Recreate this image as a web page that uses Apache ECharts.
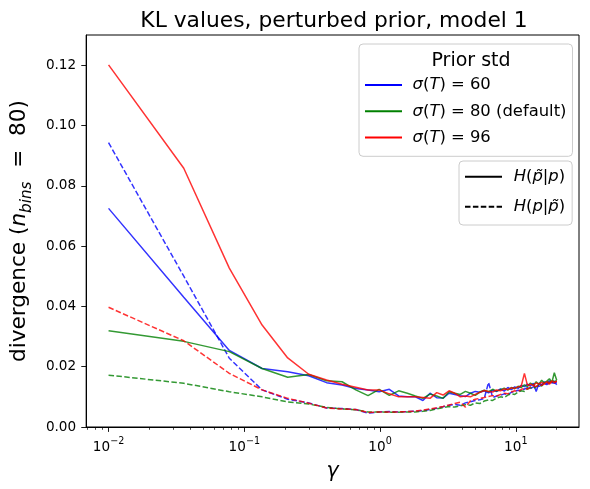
<!DOCTYPE html>
<html>
<head>
<meta charset="utf-8">
<script src="https://cdn.jsdelivr.net/npm/echarts@6/dist/echarts.min.js"></script>
<style>html,body{margin:0;padding:0;background:#fff;}#c{width:590px;height:489px;}</style>
</head>
<body>
<div id="c"></div>
<script>
// ---- data ----
const gamma = [0.01, 0.035807, 0.077537, 0.13519, 0.20877, 0.29826, 0.40369, 0.52503, 0.66230, 0.81549,
  0.98460, 1.1696, 1.3706, 1.5875, 1.8203, 2.0690, 2.3337, 2.6142, 2.9107, 3.2231,
  3.5515, 3.8958, 4.2559, 4.6321, 5.0241, 5.4320, 5.8559, 6.2957, 6.7515, 7.2231,
  7.7107, 8.2142, 8.7336, 9.2689, 9.8202, 10.387, 10.970, 11.570, 12.184, 12.815,
  13.462, 14.125, 14.804, 15.498, 16.209, 16.935, 17.677, 18.436, 19.210, 20.0];

const blueSolid = [0.0725, 0.0430, 0.0254, 0.0194, 0.0183, 0.0170, 0.0147, 0.0139, 0.0128, 0.0123,
  0.0117, 0.0125, 0.0103, 0.0100, 0.0100, 0.0088, 0.0112, 0.0097, 0.0096, 0.0112,
  0.0108, 0.0104, 0.0101, 0.0112, 0.0118, 0.0115, 0.0120, 0.0113, 0.0122, 0.0118,
  0.0126, 0.0119, 0.0131, 0.0124, 0.0133, 0.0128, 0.0138, 0.0134, 0.0142, 0.0136,
  0.0145, 0.0118, 0.0146, 0.0139, 0.0150, 0.0144, 0.0153, 0.0146, 0.0152, 0.0140];
const blueDashed = [0.0943, 0.0500, 0.0228, 0.0123, 0.0092, 0.0080, 0.0063, 0.0061, 0.0058, 0.0046,
  0.0050, 0.0051, 0.0050, 0.0051, 0.0052, 0.0054, 0.0058, 0.0062, 0.0067, 0.0072,
  0.0075, 0.0072, 0.0080, 0.0084, 0.0088, 0.0090, 0.0095, 0.0148, 0.0098, 0.0103,
  0.0105, 0.0110, 0.0108, 0.0115, 0.0118, 0.0122, 0.0120, 0.0126, 0.0130, 0.0127,
  0.0133, 0.0137, 0.0135, 0.0140, 0.0143, 0.0141, 0.0146, 0.0148, 0.0145, 0.0150];
const greenSolid = [0.0319, 0.0284, 0.0250, 0.0194, 0.0165, 0.0174, 0.0153, 0.0150, 0.0123, 0.0104,
  0.0125, 0.0105, 0.0120, 0.0112, 0.0103, 0.0095, 0.0109, 0.0103, 0.0095, 0.0117,
  0.0112, 0.0108, 0.0118, 0.0112, 0.0105, 0.0116, 0.0122, 0.0117, 0.0125, 0.0119,
  0.0124, 0.0129, 0.0122, 0.0131, 0.0127, 0.0135, 0.0131, 0.0140, 0.0134, 0.0146,
  0.0138, 0.0150, 0.0141, 0.0155, 0.0146, 0.0152, 0.0160, 0.0148, 0.0180, 0.0155];
const greenDashed = [0.0172, 0.0145, 0.0117, 0.0100, 0.0083, 0.0076, 0.0065, 0.0060, 0.0057, 0.0050,
  0.0050, 0.0049, 0.0049, 0.0050, 0.0050, 0.0052, 0.0055, 0.0060, 0.0064, 0.0068,
  0.0066, 0.0070, 0.0074, 0.0072, 0.0080, 0.0078, 0.0086, 0.0090, 0.0088, 0.0096,
  0.0100, 0.0098, 0.0106, 0.0110, 0.0108, 0.0116, 0.0120, 0.0118, 0.0126, 0.0130,
  0.0128, 0.0134, 0.0140, 0.0136, 0.0145, 0.0150, 0.0146, 0.0156, 0.0150, 0.0155];
const redSolid = [0.1201, 0.0858, 0.0527, 0.0338, 0.0229, 0.0175, 0.0156, 0.0142, 0.0132, 0.0123,
  0.0123, 0.0110, 0.0100, 0.0100, 0.0100, 0.0098, 0.0095, 0.0114, 0.0106, 0.0120,
  0.0112, 0.0100, 0.0103, 0.0100, 0.0108, 0.0115, 0.0121, 0.0118, 0.0116, 0.0123,
  0.0120, 0.0126, 0.0124, 0.0130, 0.0128, 0.0133, 0.0136, 0.0178, 0.0138, 0.0142,
  0.0138, 0.0146, 0.0142, 0.0148, 0.0144, 0.0150, 0.0146, 0.0153, 0.0147, 0.0152];
const redDashed = [0.0397, 0.0286, 0.0178, 0.0123, 0.0095, 0.0079, 0.0063, 0.0060, 0.0058, 0.0048,
  0.0050, 0.0050, 0.0050, 0.0051, 0.0053, 0.0056, 0.0060, 0.0064, 0.0068, 0.0073,
  0.0078, 0.0082, 0.0066, 0.0087, 0.0092, 0.0095, 0.0098, 0.0101, 0.0104, 0.0103,
  0.0108, 0.0112, 0.0110, 0.0116, 0.0120, 0.0118, 0.0125, 0.0128, 0.0126, 0.0132,
  0.0136, 0.0134, 0.0140, 0.0138, 0.0143, 0.0146, 0.0142, 0.0150, 0.0147, 0.0152];

const xTickValues = [0.01, 0.1, 1, 10];
const xTickExponents = ['\u22122', '\u22121', '0', '1'];
const xMinorTicks = [0.007, 0.008, 0.009, 0.02, 0.03, 0.04, 0.05, 0.06, 0.07, 0.08, 0.09,
  0.2, 0.3, 0.4, 0.5, 0.6, 0.7, 0.8, 0.9, 2, 3, 4, 5, 6, 7, 8, 9, 20];
const yTickValues = [0, 0.02, 0.04, 0.06, 0.08, 0.10, 0.12];

const sigmaNames = ['\u03c3(T) = 60', '\u03c3(T) = 80 (default)', '\u03c3(T) = 96'];
const sigmaValues = ['60', '80', '96'];
const divNames = ['H(p\u0303|p)', 'H(p|p\u0303)'];
// ---- end data ----

const FONT = 'DejaVu Sans';
const BLUE = '#0000ff', GREEN = '#008000', RED = '#ff0000';
const TFS = 13.6;

function pairs(vals) { return gamma.map((g, i) => [g, vals[i]]); }

function dataSeries(name, vals, color, dashed) {
  return {
    type: 'line', name: name, data: pairs(vals), symbol: 'none', silent: true,
    lineStyle: { color: color, width: 1.5, opacity: 0.8, type: dashed ? [5.5, 2.4] : 'solid' },
    itemStyle: { color: color }
  };
}
function legendSeries(name, color, dashed) {
  return {
    type: 'line', name: name, data: [], symbol: 'none',
    lineStyle: { color: color, width: 2, type: dashed ? [5.5, 2.4] : 'solid' },
    itemStyle: { color: color }
  };
}

const richMap = {};
richMap[sigmaNames[0]] = '{sp| }{it|\u03c3}{rm|(}{it|T}{rm|) = ' + sigmaValues[0] + '}';
richMap[sigmaNames[1]] = '{sp| }{it|\u03c3}{rm|(}{it|T}{rm|) = ' + sigmaValues[1] + ' (default)}';
richMap[sigmaNames[2]] = '{sp| }{it|\u03c3}{rm|(}{it|T}{rm|) = ' + sigmaValues[2] + '}';
richMap[divNames[0]] = '{sp| }{it|H}{rm|(}{it|p\u0303}{rm||}{it|p}{rm|)}';
richMap[divNames[1]] = '{sp| }{it|H}{rm|(}{it|p}{rm||}{it|p\u0303}{rm|)}';

const LFS = 16.4;
function legendRich(lh, sp) {
  return {
    it: { fontFamily: FONT, fontStyle: 'italic', fontSize: LFS, lineHeight: lh, color: '#000' },
    rm: { fontFamily: FONT, fontSize: LFS, lineHeight: lh, color: '#000' },
    sp: { width: sp, lineHeight: lh, fontSize: LFS }
  };
}

const chart = echarts.init(document.getElementById('c'), null, { renderer: 'canvas' });
const option = {
  animation: false,
  backgroundColor: '#fff',
  title: [
    { text: 'KL values, perturbed prior, model 1', left: 329, top: 5, textAlign: 'center',
      textStyle: { fontFamily: FONT, fontSize: 21.8, fontWeight: 'normal', color: '#000' } },
    { text: 'Prior std', left: 466, top: 47, textAlign: 'center',
      textStyle: { fontFamily: FONT, fontSize: 19, fontWeight: 'normal', color: '#000' }, z: 10 }
  ],
  grid: { left: 79, top: 35, right: 11, bottom: 62, show: true, borderColor: '#000', borderWidth: 1, backgroundColor: 'transparent' },
  legend: [
    { data: sigmaNames, orient: 'vertical', left: 359, top: 44,
      padding: [31, 6, 8.7, 5], itemWidth: 37, itemHeight: 20, itemGap: 6.3,
      itemStyle: { opacity: 0, color: 'transparent', borderColor: 'transparent', borderWidth: 0 },
      backgroundColor: 'rgba(255,255,255,0.8)', borderColor: '#cccccc', borderWidth: 1, borderRadius: 4,
      formatter: n => richMap[n], textStyle: { rich: legendRich(20, 5.6), fontSize: LFS, lineHeight: 20 },
      selectedMode: false, z: 5 },
    { data: divNames, orient: 'vertical', left: 459, top: 161,
      padding: [5.7, 7, 8.3, 5], itemWidth: 37, itemHeight: 20, itemGap: 10,
      itemStyle: { opacity: 0, color: 'transparent', borderColor: 'transparent', borderWidth: 0 },
      backgroundColor: 'rgba(255,255,255,0.8)', borderColor: '#cccccc', borderWidth: 1, borderRadius: 4,
      formatter: n => richMap[n], textStyle: { rich: legendRich(20, 6.7), fontSize: LFS, lineHeight: 20 },
      selectedMode: false, z: 5 }
  ],
  xAxis: [
    { type: 'log', logBase: 10, min: 0.00684, max: 29.2, gridIndex: 0, position: 'bottom',
      name: '\u03b3', nameLocation: 'middle', nameGap: 35,
      nameTextStyle: { fontFamily: FONT, fontStyle: 'italic', fontSize: 20.5, color: '#000' },
      axisLine: { show: true, lineStyle: { color: '#000', width: 1 } },
      axisTick: { show: true, inside: false, length: 4.9, customValues: xTickValues, lineStyle: { color: '#000', width: 0.9 } },
      axisLabel: { show: true, margin: 9, customValues: xTickValues,
        formatter: v => { const i = xTickValues.findIndex(t => Math.abs(Math.log10(t) - Math.log10(v)) < 1e-6); return '{b|10}{s|' + (i >= 0 ? xTickExponents[i] : '') + '}'; },
        rich: { b: { fontFamily: FONT, fontSize: TFS, lineHeight: 18, verticalAlign: 'bottom', color: '#000' },
                s: { fontFamily: FONT, fontSize: 9.6, lineHeight: 11, verticalAlign: 'top', color: '#000' } } },
      splitLine: { show: false }, minorTick: { show: false } },
    { type: 'log', logBase: 10, min: 0.00684, max: 29.2, gridIndex: 0, position: 'bottom',
      axisLine: { show: false },
      axisTick: { show: true, inside: false, length: 2.8, customValues: xMinorTicks, lineStyle: { color: '#000', width: 0.7 } },
      axisLabel: { show: false }, splitLine: { show: false } }
  ],
  yAxis: [
    { type: 'value', min: 0, max: 0.13, gridIndex: 0,
      name: '{rm|divergence (}{it|n}{sub|bins}{rm|  =  80)}', nameLocation: 'middle', nameRotate: 90, nameGap: 49,
      nameTextStyle: { rich: {
        rm: { fontFamily: FONT, fontSize: 21.6, color: '#000', lineHeight: 27, verticalAlign: 'top' },
        it: { fontFamily: FONT, fontStyle: 'italic', fontSize: 21.6, color: '#000', lineHeight: 27, verticalAlign: 'top' },
        sub: { fontFamily: FONT, fontStyle: 'italic', fontSize: 15.2, color: '#000', lineHeight: 15, verticalAlign: 'bottom' } } },
      axisLine: { show: true, lineStyle: { color: '#000', width: 1 } },
      axisTick: { show: true, inside: false, length: 4.9, customValues: yTickValues, lineStyle: { color: '#000', width: 0.9 } },
      axisLabel: { show: true, margin: 10, customValues: yTickValues, formatter: v => v.toFixed(2),
        fontFamily: FONT, fontSize: TFS, color: '#000' },
      splitLine: { show: false } }
  ],
  series: [
    dataSeries('blue_solid', blueSolid, BLUE, false),
    dataSeries('blue_dashed', blueDashed, BLUE, true),
    dataSeries('green_solid', greenSolid, GREEN, false),
    dataSeries('green_dashed', greenDashed, GREEN, true),
    dataSeries('red_solid', redSolid, RED, false),
    dataSeries('red_dashed', redDashed, RED, true),
    legendSeries(sigmaNames[0], BLUE, false),
    legendSeries(sigmaNames[1], GREEN, false),
    legendSeries(sigmaNames[2], RED, false),
    legendSeries(divNames[0], '#000', false),
    legendSeries(divNames[1], '#000', true)
  ]
};
chart.setOption(option);
</script>
</body>
</html>
